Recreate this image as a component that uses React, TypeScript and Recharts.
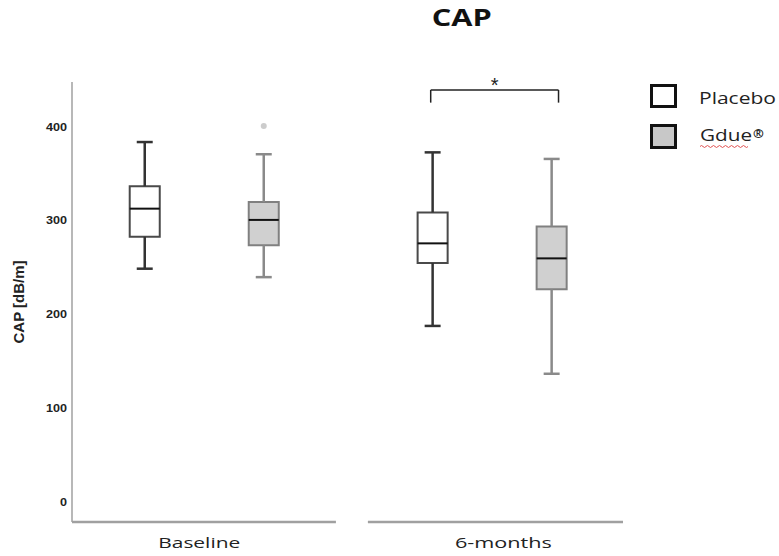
import React from 'react';
import {
  ComposedChart,
  XAxis,
  YAxis,
  ReferenceArea,
  ReferenceLine,
  ReferenceDot,
  Scatter,
  Legend,
} from 'recharts';

// ---------- data ----------
const categories = ['Baseline', '6-months'];
const seriesNames = ['Placebo', 'Gdue'];
const seriesMark = '\u00AE';

const placeboMin = [249, 188];
const placeboQ1 = [283, 255];
const placeboMedian = [313, 276];
const placeboQ3 = [337, 309];
const placeboMax = [384, 373];

const gdueMin = [240, 137];
const gdueQ1 = [274, 227];
const gdueMedian = [301, 260];
const gdueQ3 = [320, 294];
const gdueMax = [371, 366];

const gdueOutlierCategory = [0];
const gdueOutlierValue = [401];

const yTicks = [0, 100, 200, 300, 400];
const significanceLabel = '*';
const significanceCategory = 1;
const bracketTop = 439.5;
const bracketBottom = 426;

// ---------- layout (not data) ----------
const W = 779;
const H = 556;
const X_DOMAIN: [number, number] = [0, 2];
const Y_DOMAIN: [number, number] = [-21, 448];
const catCenter = [0.48, 1.525];
const labelPos = [0.462, 1.566];
const groupOffset = 0.216;
const boxHalf = 0.0545;
const capHalf = 0.029;
const axisSegments = [
  [0, 0.958],
  [1.074, 2],
];

const styles = [
  { box: '#4a4a4a', fill: '#ffffff', whisker: '#333333' },
  { box: '#808080', fill: '#d0d0d0', whisker: '#8a8a8a' },
];

type Stat = { x: number; min: number; q1: number; med: number; q3: number; max: number; s: number };

const stats: Stat[] = [];
categories.forEach((_, i) => {
  stats.push({
    x: catCenter[i] - groupOffset,
    min: placeboMin[i],
    q1: placeboQ1[i],
    med: placeboMedian[i],
    q3: placeboQ3[i],
    max: placeboMax[i],
    s: 0,
  });
  stats.push({
    x: catCenter[i] + groupOffset,
    min: gdueMin[i],
    q1: gdueQ1[i],
    med: gdueMedian[i],
    q3: gdueQ3[i],
    max: gdueMax[i],
    s: 1,
  });
});

const outlierData = gdueOutlierCategory.map((c, i) => ({
  x: catCenter[c] + groupOffset,
  y: gdueOutlierValue[i],
}));

const YTick = (props: any) => {
  const { x, y, payload } = props;
  const s = String(payload.value);
  return (
    <text
      x={x}
      y={y}
      dy={3.5}
      textAnchor="end"
      fontFamily="Arial, 'Liberation Sans', sans-serif"
      fontSize={10}
      fontWeight="bold"
      fill="#222"
      textLength={s.length * 7}
      lengthAdjust="spacingAndGlyphs"
    >
      {s}
    </text>
  );
};

const labelWidths = [82, 97];
const XTick = (props: any) => {
  const { x, y, index } = props;
  return (
    <text
      x={x}
      y={y + 26}
      textAnchor="middle"
      fontFamily="'Open Sans', sans-serif"
      fontSize={15}
      fill="#222"
      textLength={labelWidths[index]}
      lengthAdjust="spacingAndGlyphs"
    >
      {categories[index]}
    </text>
  );
};

const LegendContent = () => (
  <svg width={139} height={80} style={{ display: 'block' }}>
    <rect x={11.5} y={7.5} width={24} height={21} fill="#ffffff" stroke="#111" strokeWidth={3} />
    <text
      x={59}
      y={26.3}
      fontFamily="'Open Sans', sans-serif"
      fontSize={16}
      fill="#222"
      textLength={77}
      lengthAdjust="spacingAndGlyphs"
    >
      {seriesNames[0]}
    </text>
    <rect x={11.5} y={47.5} width={24} height={22} fill="#c8c8c8" stroke="#111" strokeWidth={3} />
    <text
      x={60}
      y={62.7}
      fontFamily="'Open Sans', sans-serif"
      fontSize={16}
      fill="#222"
      textLength={52}
      lengthAdjust="spacingAndGlyphs"
    >
      {seriesNames[1]}
    </text>
    <text
      x={113}
      y={60}
      fontFamily="'Open Sans', sans-serif"
      fontSize={13}
      fontWeight="bold"
      fill="#222"
    >
      {seriesMark}
    </text>
    <path
      d="M60 68.5 q1.5 -2 3 0 t3 0 t3 0 t3 0 t3 0 t3 0 t3 0 t3 0 t3 0 t3 0 t3 0 t3 0 t3 0 t3 0 t3 0 t3 0"
      fill="none"
      stroke="#e05050"
      strokeWidth={1}
    />
  </svg>
);

export default function App() {
  return (
    <div style={{ position: 'absolute', left: 0, top: 0, width: W, height: H, background: '#fff' }}>
      <ComposedChart
        width={W}
        height={H}
        margin={{ top: 82, right: 156, bottom: 4, left: 0 }}
        data={outlierData}
      >
        <XAxis
          type="number"
          dataKey="x"
          domain={X_DOMAIN}
          ticks={labelPos}
          axisLine={false}
          tickLine={false}
          tickSize={0}
          tickMargin={0}
          height={30}
          allowDataOverflow
          tick={<XTick />}
          interval={0}
        />
        <YAxis
          type="number"
          dataKey="y"
          domain={Y_DOMAIN}
          ticks={yTicks}
          width={72}
          allowDataOverflow
          axisLine={{ stroke: '#a0a0a0', strokeWidth: 1.5 }}
          tickLine={false}
          tickSize={0}
          tickMargin={5}
          tick={<YTick />}
          interval={0}
          label={{
            value: 'CAP [dB/m]',
            angle: -90,
            position: 'insideLeft',
            offset: 0,
            dx: 19,
            style: {
              fontFamily: "Arial, 'Liberation Sans', sans-serif",
              fontSize: 15,
              fontWeight: 'bold',
              fill: '#222',
              textAnchor: 'middle',
            },
          }}
        />
        <Legend
          layout="horizontal"
          align="center"
          verticalAlign="middle"
          wrapperStyle={{ left: 640, top: 78, width: 139, height: 80 }}
          content={<LegendContent />}
        />

        {axisSegments.map((seg, i) => (
          <ReferenceLine
            key={'ax' + i}
            segment={[
              { x: seg[0], y: Y_DOMAIN[0] },
              { x: seg[1], y: Y_DOMAIN[0] },
            ]}
            stroke="#a0a0a0"
            strokeWidth={2.5}
            ifOverflow="visible"
          />
        ))}

        {stats.map((d, i) => (
          <ReferenceLine
            key={'wu' + i}
            segment={[
              { x: d.x, y: d.q3 },
              { x: d.x, y: d.max },
            ]}
            stroke={styles[d.s].whisker}
            strokeWidth={2.5}
          />
        ))}
        {stats.map((d, i) => (
          <ReferenceLine
            key={'wl' + i}
            segment={[
              { x: d.x, y: d.min },
              { x: d.x, y: d.q1 },
            ]}
            stroke={styles[d.s].whisker}
            strokeWidth={2.5}
          />
        ))}
        {stats.map((d, i) => (
          <ReferenceLine
            key={'cu' + i}
            segment={[
              { x: d.x - capHalf, y: d.max },
              { x: d.x + capHalf, y: d.max },
            ]}
            stroke={styles[d.s].whisker}
            strokeWidth={2.5}
          />
        ))}
        {stats.map((d, i) => (
          <ReferenceLine
            key={'cl' + i}
            segment={[
              { x: d.x - capHalf, y: d.min },
              { x: d.x + capHalf, y: d.min },
            ]}
            stroke={styles[d.s].whisker}
            strokeWidth={2.5}
          />
        ))}
        {stats.map((d, i) => (
          <ReferenceArea
            key={'bx' + i}
            x1={d.x - boxHalf}
            x2={d.x + boxHalf}
            y1={d.q1}
            y2={d.q3}
            fill={styles[d.s].fill}
            fillOpacity={1}
            stroke={styles[d.s].box}
            strokeWidth={2}
          />
        ))}
        {stats.map((d, i) => (
          <ReferenceLine
            key={'md' + i}
            segment={[
              { x: d.x - boxHalf, y: d.med },
              { x: d.x + boxHalf, y: d.med },
            ]}
            stroke="#111"
            strokeWidth={2}
          />
        ))}

        <Scatter
          dataKey="y"
          data={outlierData}
          isAnimationActive={false}
          shape={(p: any) => <circle cx={p.cx} cy={p.cy} r={3} fill="#cccccc" />}
        />

        {/* significance bracket */}
        <ReferenceLine
          segment={[
            { x: catCenter[significanceCategory] - groupOffset - 0.007, y: bracketTop },
            { x: catCenter[significanceCategory] + groupOffset + 0.025, y: bracketTop },
          ]}
          stroke="#222"
          strokeWidth={1.5}
        />
        <ReferenceLine
          segment={[
            { x: catCenter[significanceCategory] - groupOffset - 0.007, y: bracketTop },
            { x: catCenter[significanceCategory] - groupOffset - 0.007, y: bracketBottom },
          ]}
          stroke="#222"
          strokeWidth={1.5}
        />
        <ReferenceLine
          segment={[
            { x: catCenter[significanceCategory] + groupOffset + 0.025, y: bracketTop },
            { x: catCenter[significanceCategory] + groupOffset + 0.025, y: bracketBottom },
          ]}
          stroke="#222"
          strokeWidth={1.5}
        />
        <ReferenceDot
          x={catCenter[significanceCategory] + 0.009}
          y={bracketTop}
          r={0}
          fill="none"
          stroke="none"
          label={{
            value: significanceLabel,
            position: 'top',
            offset: -2,
            style: { fontFamily: "Arial, 'Liberation Sans', sans-serif", fontSize: 20, fill: '#222' },
          }}
        />
      </ComposedChart>
      <svg
        width={W}
        height={40}
        style={{ position: 'absolute', left: 0, top: 0, pointerEvents: 'none' }}
      >
        <text
          x={461.7}
          y={26}
          textAnchor="middle"
          fontFamily="'Open Sans', sans-serif"
          fontWeight="bold"
          fontSize={23}
          fill="#111"
          textLength={60}
          lengthAdjust="spacingAndGlyphs"
        >
          CAP
        </text>
      </svg>
    </div>
  );
}
